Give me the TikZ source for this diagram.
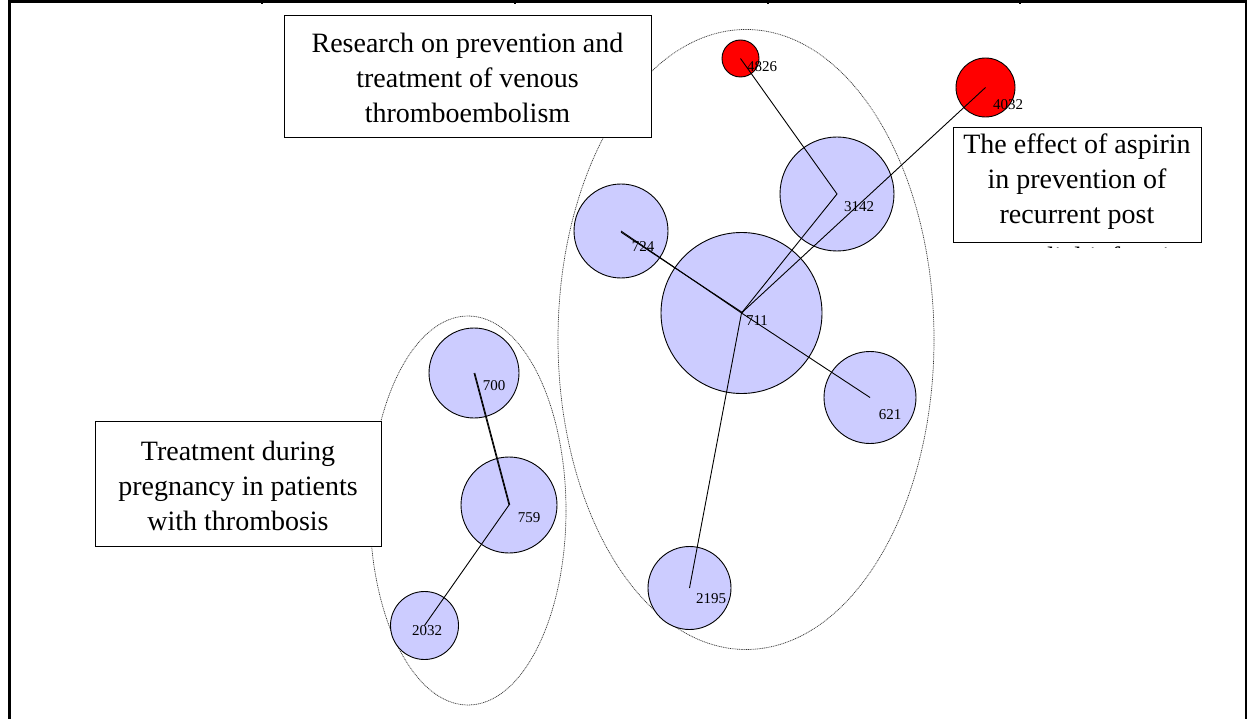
\documentclass[tikz,border=0pt]{standalone}
\usepackage{fontspec}
\setmainfont{Liberation Serif}
\definecolor{bubblue}{RGB}{204,204,255}
\definecolor{bubred}{RGB}{255,0,0}
\begin{document}
\begin{tikzpicture}[x=1pt,y=-1pt,
  bubble/.style={circle, draw=black, line width=0.9pt, fill=#1, inner sep=0pt},
  bubble/.default=bubblue,
  link/.style={draw=black, line width=0.9pt},
  cluster/.style={draw=black!80, line width=0.7pt, dash pattern=on 1pt off 0.8pt},
  topicbox/.style={rectangle, draw=black, line width=0.9pt, fill=white, inner sep=0pt},
  topictext/.style={align=center, font=\fontsize{28}{35}\selectfont, inner sep=0pt},
  idlabel/.style={font=\fontsize{15}{15}\selectfont, inner sep=0pt},
  frameline/.style={draw=black, line width=3pt},
]
\useasboundingbox (0,0) rectangle (1247,719);

% page frame with column ticks
\draw[frameline] (9.5,0) -- (9.5,719);
\draw[draw=black, line width=2pt] (1246,0) -- (1246,719);
\draw[frameline] (8,2) -- (1247,2);
\foreach \tx in {262,515,768,1020} \draw[line width=1.5pt] (\tx,0) -- (\tx,4);

% cluster outlines
\draw[cluster] (746,339.5) ellipse [x radius=188, y radius=310];
\draw[cluster] (468,510.5) ellipse [x radius=98, y radius=194.5];

% document bubbles
\node[bubble, minimum size=161pt] (c711) at (741.5,313) {};
\node[bubble, minimum size=94pt]  (c724) at (621,231) {};
\node[bubble, minimum size=114pt] (c3142) at (837,194) {};
\node[bubble=bubred, minimum size=37pt] (c4826) at (740.5,58.5) {};
\node[bubble=bubred, minimum size=59pt] (c4032) at (985.5,87.5) {};
\node[bubble, minimum size=92pt]  (c621) at (870,397.5) {};
\node[bubble, minimum size=83pt]  (c2195) at (689.5,588) {};
\node[bubble, minimum size=90pt]  (c700) at (474,373) {};
\node[bubble, minimum size=96pt]  (c759) at (509,505) {};
\node[bubble, minimum size=68pt]  (c2032) at (424.5,625.5) {};

% citation links
\draw[link] (c724.center) -- (c711.center);
\draw[link] ([yshift=-1.2pt]c724.center) -- ([xshift=1.5pt]c711.center);
\draw[link] (c711.center) -- (c3142.center) -- (c4826.center);
\draw[link] (c711.center) -- (c4032.center);
\draw[link] (c711.center) -- (c621.center);
\draw[link] (c711.center) -- (c2195.center);
\draw[link] (c700.center) -- (c759.center);
\draw[link] ([xshift=0.8pt]c700.center) -- ([xshift=0.8pt]c759.center);
\draw[link] (c759.center) -- (c2032.center);

% bubble ids
\node[idlabel] (l711)  at (757,321)  {711};
\node[idlabel] (l724)  at (643,247)  {724};
\node[idlabel] (l3142) at (859,207)  {3142};
\node[idlabel] (l4826) at (762,67)   {4826};
\node[idlabel] (l4032) at (1008,105) {4032};
\node[idlabel] (l621)  at (890,415)  {621};
\node[idlabel] (l2195) at (711,599)  {2195};
\node[idlabel] (l700)  at (494,386)  {700};
\node[idlabel] (l759)  at (529,518)  {759};
\node[idlabel] (l2032) at (427,631)  {2032};

% topic captions
\node[topicbox, minimum width=367pt, minimum height=122pt] (boxA) at (467.5,76) {};
\node[topictext] (txtA) at (467.5,78) {Research on prevention and\\treatment of venous\\thromboembolism};

\node[topicbox, minimum width=248pt, minimum height=115pt] (boxB) at (1077,184.5) {};
\node[topictext] (txtB) at (1077,182) {The effect of aspirin\\in prevention of\\recurrent post};
% overflowing last line of the caption: only the tops of its tall letters show
\begin{scope}
  \clip (950,243) rectangle (1205,247.5);
  \node[topictext, anchor=base] (txtBmore) at (1077,266) {myocardial infarction};
\end{scope}

\node[topicbox, minimum width=286pt, minimum height=125pt] (boxC) at (238,483.5) {};
\node[topictext] (txtC) at (238,486) {Treatment during\\pregnancy in patients\\with thrombosis};
\end{tikzpicture}
\end{document}
